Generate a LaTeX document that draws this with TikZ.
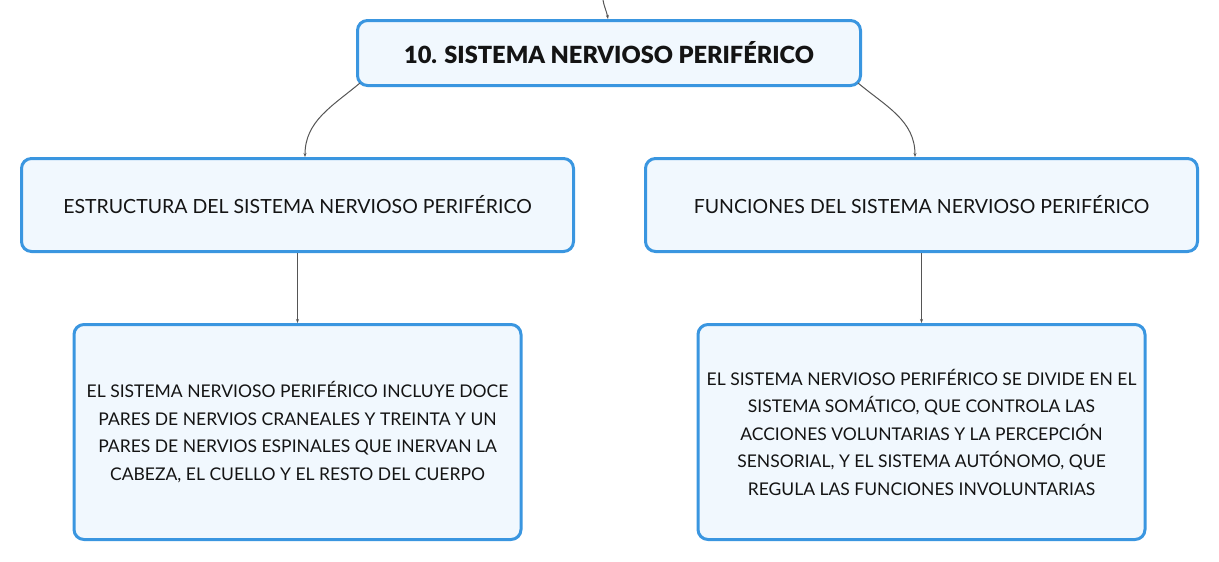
\documentclass[tikz,border=0pt]{standalone}
\usepackage{fontspec}
\setmainfont{Lato}
\IfFontExistsTF{Lato Black}{\newfontfamily\titlefont{Lato Black}}{\newfontfamily\titlefont{Lato}[UprightFont=*-Bold]}
\usepackage{tikz}
\usetikzlibrary{positioning,arrows.meta}
\definecolor{colorborder}{RGB}{58,150,224}
\definecolor{colorfill}  {RGB}{241,248,254}
\definecolor{colorlink}  {RGB}{85,85,85}
\definecolor{colortext}  {RGB}{20,20,20}

\begin{document}
\begin{tikzpicture}[
    x=1pt, y=1pt,
    node distance = 70pt,
    base/.style={text=colortext,font={\fontsize{17.5}{27.5}\selectfont},inner sep=0pt,align=center,rectangle,
                 rounded corners=10pt,line width=3pt,draw=colorborder,fill=colorfill},
    titlebox/.style={base,font={\fontsize{23.6}{26}\titlefont},minimum width=503pt,minimum height=65pt},
    topicbox/.style={base,font={\fontsize{19.5}{24}\selectfont},minimum width=552pt,minimum height=93pt},
    detailbox/.style={base,minimum width=447pt,minimum height=215pt},
    link/.style={draw=colorlink,line width=1pt,-{Stealth[length=4pt,width=3pt]}},
]
    \useasboundingbox (0,0) rectangle (1219,-562);

    % Nodes
    \node[titlebox] (sistema) at (609,-53) {10. SISTEMA NERVIOSO PERIFÉRICO};
    \node[topicbox] (estructura) at (297.5,-205) {ESTRUCTURA DEL SISTEMA NERVIOSO PERIFÉRICO};
    \node[topicbox] (funciones)  at (921.5,-205) {FUNCIONES DEL SISTEMA NERVIOSO PERIFÉRICO};
    \node[detailbox,below=of estructura] (nervios) {EL SISTEMA NERVIOSO PERIFÉRICO INCLUYE DOCE\\
        PARES DE NERVIOS CRANEALES Y TREINTA Y UN\\
        PARES DE NERVIOS ESPINALES QUE INERVAN LA\\
        CABEZA, EL CUELLO Y EL RESTO DEL CUERPO};
    \node[detailbox,below=of funciones] (division) {EL SISTEMA NERVIOSO PERIFÉRICO SE DIVIDE EN EL\\
        SISTEMA SOMÁTICO, QUE CONTROLA LAS\\
        ACCIONES VOLUNTARIAS Y LA PERCEPCIÓN\\
        SENSORIAL, Y EL SISTEMA AUTÓNOMO, QUE\\
        REGULA LAS FUNCIONES INVOLUNTARIAS};

    % Arrows
    \coordinate (entrada) at (603,0);
    \draw[link] (entrada) to [out=-80,in=100] ([xshift=-1pt]sistema.north);
    \draw[link] ([xshift=4pt,yshift=4pt]sistema.south west) to [out=220,in=90] ([xshift=7.5pt]estructura.north);
    \draw[link] ([xshift=-4pt,yshift=4pt]sistema.south east) to [out=-40,in=90] ([xshift=-6.5pt]funciones.north);
    \draw[link] (estructura) -- (nervios);
    \draw[link] (funciones) -- (division);

\end{tikzpicture}
\end{document}
